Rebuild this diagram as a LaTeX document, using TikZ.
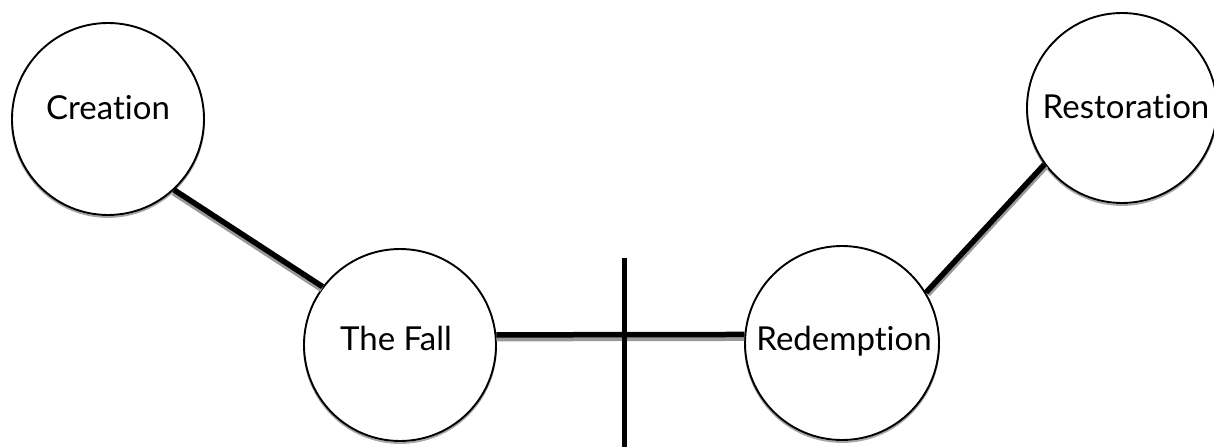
\documentclass[tikz,border=0pt]{standalone}
\usepackage{fontspec}
\setmainfont[Ligatures={NoCommon,NoRequired,NoContextual}]{Lato}
\begin{document}
\begin{tikzpicture}[x=1pt,y=-1pt,
  stage/.style={circle,draw=black,line width=1.9pt,fill=white,inner sep=0pt,minimum size=#1},
  ring/.style={circle,draw=black!35,line width=1.8pt,inner sep=0pt,minimum size=#1},
  word/.style={font=\fontsize{33}{38}\selectfont,inner sep=0pt,anchor=base},
  link/.style={line width=5.5pt,black,line cap=butt},
  linkshadow/.style={line width=5pt,black!40,line cap=butt},
  beam/.style={line width=5pt,black}]
\useasboundingbox (0,0) rectangle (1214,447);

% soft rings under each circle
\node[ring=192pt] at (108,121) {};
\node[ring=192pt] at (400,347) {};
\node[ring=194pt] at (842,345) {};
\node[ring=190pt] at (1122,110) {};

% the four stages
\node[stage=192pt] (cre) at (108,119) {};
\node[stage=192pt] (fall) at (400,345) {};
\node[stage=194pt] (red) at (842,343) {};
\node[stage=190pt] (res) at (1122,108) {};

\node[word] (crelbl) at ([yshift=0pt]cre.center) {Creation};
\node[word] (falllbl) at ([xshift=-4pt,yshift=-5pt]fall.center) {The Fall};
\node[word] (redlbl) at ([xshift=2pt,yshift=-7pt]red.center) {Redemption};
\node[word] (reslbl) at ([xshift=4pt,yshift=-10pt]res.center) {Restoration};

% connectors with their shadows
\draw[linkshadow] ([xshift=-1pt,yshift=-3pt]cre.-47) -- ([xshift=-1pt,yshift=-3pt]fall.143.5);
\draw[linkshadow] ([yshift=-4pt]fall.6) -- ([yshift=-4pt]red.175);
\draw[linkshadow] ([xshift=2pt,yshift=-2pt]red.31.4) -- ([xshift=2pt,yshift=-2pt]res.216.6);
\draw[link] (cre.-47) -- (fall.143.5);
\draw[link] (fall.6) -- (red.175);
\draw[link] (red.31.4) -- (res.216.6);

% the cross
\coordinate (crosstop) at (624,258);
\coordinate (crossbot) at (624,447);
\draw[beam] (crosstop) -- (crossbot);
\end{tikzpicture}
\end{document}
